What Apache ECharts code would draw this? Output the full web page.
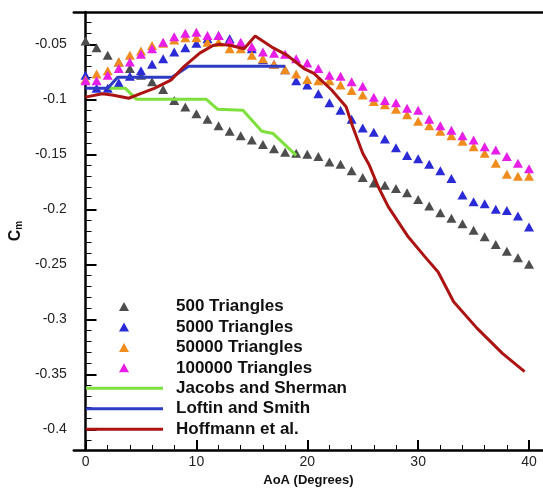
<!DOCTYPE html>
<html>
<head>
<meta charset="utf-8">
<script src="https://cdn.jsdelivr.net/npm/echarts@6/dist/echarts.min.js"></script>
<style>
  html, body { margin: 0; padding: 0; background: #fff; }
  #main { width: 543px; height: 493px; }
</style>
</head>
<body>
<div id="main"></div>
<script>
// angle of attack, degrees
var aoa = [0,1,2,3,4,5,6,7,8,9,10,11,12,13,14,15,16,17,18,19,20,
           21,22,23,24,25,26,27,28,29,30,31,32,33,34,35,36,37,38,39,40];

var cm500 = [-0.047,-0.053,-0.060,-0.066,-0.072,-0.078,-0.084,-0.091,-0.101,-0.107,-0.113,
             -0.118,-0.124,-0.129,-0.133,-0.137,-0.141,-0.145,-0.148,-0.149,-0.150,
             -0.152,-0.157,-0.159,-0.165,-0.171,-0.176,-0.178,-0.181,-0.185,-0.191,
             -0.197,-0.203,-0.208,-0.213,-0.219,-0.225,-0.232,-0.238,-0.244,-0.250];

var cm5000 = [-0.078,-0.090,-0.090,-0.085,-0.079,-0.074,-0.068,-0.063,-0.057,-0.053,-0.049,
              -0.045,-0.042,-0.045,-0.049,-0.054,-0.064,-0.068,-0.073,-0.083,-0.087,
              -0.095,-0.103,-0.110,-0.118,-0.126,-0.130,-0.136,-0.144,-0.151,-0.154,
              -0.159,-0.165,-0.172,-0.187,-0.193,-0.195,-0.200,-0.201,-0.206,-0.216];

var cm50000 = [-0.082,-0.077,-0.074,-0.066,-0.060,-0.056,-0.051,-0.049,-0.046,-0.044,-0.044,
               -0.048,-0.048,-0.054,-0.054,-0.060,-0.063,-0.068,-0.073,-0.077,-0.082,
               -0.083,-0.083,-0.087,-0.092,-0.096,-0.102,-0.105,-0.109,-0.114,-0.120,
               -0.124,-0.129,-0.133,-0.138,-0.143,-0.149,-0.158,-0.168,-0.170,-0.170];

var cm100000 = [-0.083,-0.083,-0.078,-0.072,-0.066,-0.059,-0.054,-0.048,-0.043,-0.040,-0.039,
                -0.042,-0.042,-0.047,-0.048,-0.052,-0.057,-0.058,-0.059,-0.063,-0.067,
                -0.072,-0.078,-0.079,-0.084,-0.088,-0.098,-0.101,-0.103,-0.108,-0.110,
                -0.118,-0.124,-0.128,-0.133,-0.137,-0.143,-0.146,-0.152,-0.158,-0.163];

// experimental curves: [aoa, cm]
var jacobs = [[2.1,-0.09],[3.6,-0.09],[4.6,-0.10],[10.9,-0.10],[11.9,-0.109],[14.2,-0.11],
              [15.9,-0.129],[16.9,-0.131],[19,-0.151]];

var loftin = [[0,-0.09],[2,-0.09],[2.9,-0.08],[7.8,-0.08],[9.3,-0.07],[18,-0.07]];

var hoffmann = [[0,-0.098],[1.5,-0.095],[2.4,-0.096],[3.9,-0.099],[4.9,-0.095],[6.2,-0.09],
                [7.7,-0.0825],[8.9,-0.07],[10.3,-0.058],[11.5,-0.051],[12.1,-0.050],[13.1,-0.051],
                [14.3,-0.054],[15.3,-0.0425],[16.8,-0.0525],[18.2,-0.06],[19.7,-0.072],[20.6,-0.0764],
                [22.2,-0.0915],[23.5,-0.1067],[24.1,-0.125],[25,-0.149],[25.6,-0.16],[26.4,-0.1795],
                [27.3,-0.1976],[29.1,-0.225],[30.6,-0.243],[31.8,-0.257],[33.2,-0.284],[35.3,-0.308],
                [37.6,-0.331],[39.6,-0.3476]];

var meshNames = ['500 Triangles','5000 Triangles','50000 Triangles','100000 Triangles'];
var expNames = ['Jacobs and Sherman','Loftin and Smith','Hoffmann et al.'];

var xMajor = [0,10,20,30,40];
var xMinor = [2,4,6,8,12,14,16,18,22,24,26,28,32,34,36,38];
var yMajor = [-0.4,-0.35,-0.3,-0.25,-0.2,-0.15,-0.1,-0.05];
var yMinor = [-0.41,-0.39,-0.38,-0.37,-0.36,-0.34,-0.33,-0.32,-0.31,-0.29,-0.28,-0.27,-0.26,
              -0.24,-0.23,-0.22,-0.21,-0.19,-0.18,-0.17,-0.16,-0.14,-0.13,-0.12,-0.11,
              -0.09,-0.08,-0.07,-0.06,-0.04,-0.03];

function pairs(xs, ys) {
  var out = [];
  for (var i = 0; i < xs.length; i++) out.push([xs[i], ys[i]]);
  return out;
}

var myChart = echarts.init(document.getElementById('main'));

var xMin = -1.056, xMax = 41.26;
var yMin = -0.4188, yMax = -0.0206;
var font = 'Arial, "Liberation Sans", sans-serif';
var rowH = 20.45, textH = 17, legendTop = 298;

function scatter(name, data, color) {
  return {
    name: name, type: 'scatter', symbol: 'triangle', symbolSize: [10, 9],
    itemStyle: { color: color, opacity: 1 },
    data: pairs(aoa, data)
  };
}
function line(name, data, color) {
  return {
    name: name, type: 'line', symbol: 'none', smooth: false,
    lineStyle: { color: color, width: 3 },
    itemStyle: { color: color },
    data: data
  };
}

var legendText = { fontFamily: font, fontSize: 17, fontWeight: 'bold', color: '#111', lineHeight: textH };

var option = {
  animation: false,
  backgroundColor: '#fff',
  grid: { left: 64, top: 12, right: -2, bottom: 43 },
  legend: [{
    orient: 'vertical', left: 119, top: legendTop, padding: 0,
    itemWidth: 10, itemHeight: 9, itemGap: rowH - textH, icon: 'triangle',
    textStyle: Object.assign({ padding: [0, 0, 0, 42] }, legendText),
    data: meshNames
  }, {
    orient: 'vertical', left: 86, top: legendTop + 4 * rowH, padding: 0,
    itemWidth: 77, itemHeight: 3, itemGap: rowH - textH, icon: 'rect',
    textStyle: Object.assign({ padding: [0, 0, 0, 8] }, legendText),
    data: expNames
  }],
  xAxis: [{
    type: 'value', min: xMin, max: xMax, position: 'bottom',
    name: 'AoA (Degrees)', nameLocation: 'middle', nameGap: 22,
    nameTextStyle: { fontFamily: font, fontSize: 13, fontWeight: 'bold', color: '#111' },
    axisLine: { lineStyle: { color: '#000', width: 2.5 } },
    axisTick: { inside: true, length: 10, lineStyle: { color: '#000', width: 2 }, customValues: xMajor },
    axisLabel: { customValues: xMajor, margin: 5, fontFamily: font, fontSize: 14, color: '#222' },
    splitLine: { show: false }
  }, {
    type: 'value', min: xMin, max: xMax, position: 'bottom',
    axisLine: { show: false },
    axisTick: { inside: true, length: 5, lineStyle: { color: '#000', width: 1 }, customValues: xMinor },
    axisLabel: { show: false },
    splitLine: { show: false }
  }, {
    type: 'value', min: xMin, max: xMax, position: 'top',
    axisLine: { lineStyle: { color: '#000', width: 2.5 } },
    axisTick: { show: false }, axisLabel: { show: false }, splitLine: { show: false }
  }],
  yAxis: [{
    type: 'value', min: yMin, max: yMax, position: 'left',
    name: '{c|C}{m|m}', nameLocation: 'middle', nameGap: 37,
    nameTextStyle: {
      fontFamily: font, color: '#111',
      rich: {
        c: { fontFamily: font, fontSize: 16, fontWeight: 'bold', color: '#111' },
        m: { fontFamily: font, fontSize: 10, fontWeight: 'bold', color: '#111', verticalAlign: 'bottom' }
      }
    },
    axisLine: { lineStyle: { color: '#000', width: 2.5 } },
    axisTick: { inside: true, length: 11, lineStyle: { color: '#000', width: 2 }, customValues: yMajor },
    axisLabel: { customValues: yMajor, margin: 7, fontFamily: font, fontSize: 14, color: '#222' },
    splitLine: { show: false }
  }, {
    type: 'value', min: yMin, max: yMax, position: 'left',
    axisLine: { show: false },
    axisTick: { inside: true, length: 6, lineStyle: { color: '#000', width: 1 }, customValues: yMinor },
    axisLabel: { show: false },
    splitLine: { show: false }
  }],
  series: [
    scatter(meshNames[0], cm500, '#4d4d4d'),
    scatter(meshNames[1], cm5000, '#2a2ad6'),
    scatter(meshNames[2], cm50000, '#f08c1e'),
    scatter(meshNames[3], cm100000, '#e61ee6'),
    line(expNames[0], jacobs, '#7ee03c'),
    line(expNames[1], loftin, '#2e3cc4'),
    line(expNames[2], hoffmann, '#ac1414')
  ]
};

myChart.setOption(option);
</script>
</body>
</html>
